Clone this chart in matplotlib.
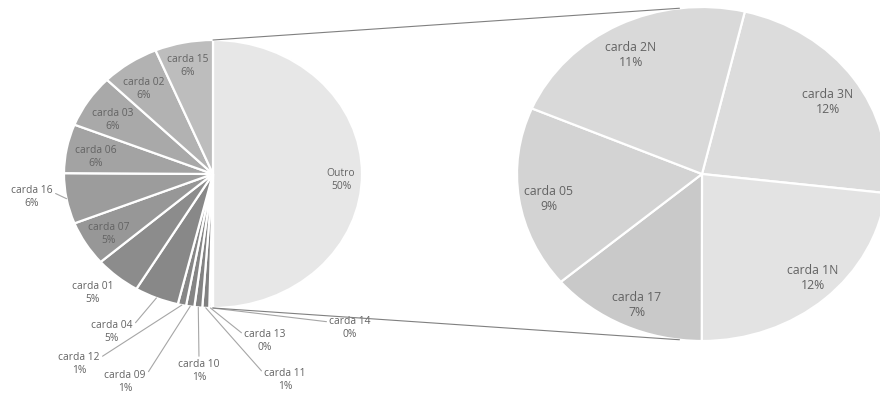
import matplotlib
matplotlib.use("Agg")
import matplotlib.pyplot as plt
from matplotlib.patches import ConnectionPatch
import numpy as np

plt.rcParams["font.family"] = ["Open Sans", "DejaVu Sans"]

# first pie, clockwise from 12 o'clock
left_labels = ["Outro", "carda 14", "carda 13", "carda 11", "carda 10", "carda 09",
               "carda 12", "carda 04", "carda 01", "carda 07", "carda 16",
               "carda 06", "carda 03", "carda 02", "carda 15"]
left_values = [50.0, 0.15, 0.25, 0.75, 0.85, 0.9, 0.9, 4.8, 5.0, 5.4, 6.1,
               5.9, 6.4, 6.3, 6.3]
left_colors = ["#e7e7e7", "#7c7c7c", "#7e7e7e", "#808080", "#828282", "#848484",
               "#868686", "#888888", "#8c8c8c", "#979797", "#9c9c9c",
               "#a3a3a3", "#a9a9a9", "#b2b2b2", "#bdbdbd"]

# second pie (breakdown of "Outro"), clockwise
right_labels = ["carda 3N", "carda 1N", "carda 17", "carda 05", "carda 2N"]
right_values = [11.55, 11.6, 6.9, 8.8, 11.15]
right_colors = ["#dcdcdc", "#e3e3e3", "#c9c9c9", "#d3d3d3", "#d9d9d9"]

total = sum(left_values)

# label placement in figure pixels (x, y from top)
left_pos = {
    "Outro": (341, 180), "carda 15": (188, 66), "carda 02": (144, 89),
    "carda 03": (113, 120), "carda 06": (96, 157), "carda 07": (109, 234),
    "carda 01": (93, 293), "carda 16": (32, 197), "carda 04": (112, 332),
    "carda 12": (79, 364), "carda 09": (125, 382), "carda 10": (199, 371),
    "carda 11": (285, 380), "carda 13": (265, 341), "carda 14": (350, 328),
}
leader_rel = {
    "carda 16": (1.0, 0.7), "carda 04": (1.0, 0.75), "carda 12": (1.0, 0.75),
    "carda 09": (1.0, 0.75), "carda 10": (0.5, 1.0), "carda 11": (0.0, 0.75),
    "carda 13": (0.0, 0.75), "carda 14": (0.0, 0.75),
}
right_pos = {
    "carda 2N": (631, 55), "carda 3N": (828, 102), "carda 05": (549, 199),
    "carda 1N": (813, 278), "carda 17": (637, 305),
}

W, H = 880, 394
fig = plt.figure(figsize=(8.8, 3.94), dpi=100)


def ellipse_axes(cx, cy, rx, ry):
    ax = fig.add_axes([(cx - rx) / W, (H - cy - ry) / H, 2 * rx / W, 2 * ry / H])
    return ax


ax1 = ellipse_axes(213, 174, 149, 134)
wedges1, _ = ax1.pie(left_values, colors=left_colors, startangle=90, counterclock=False,
                     wedgeprops=dict(edgecolor="white", linewidth=1.6))
ax1.set_aspect("auto")
ax1.set_xlim(-1, 1)
ax1.set_ylim(-1, 1)

ax2 = ellipse_axes(702, 174, 185, 167)
wedges2, _ = ax2.pie(right_values, colors=right_colors, startangle=76.6, counterclock=False,
                     wedgeprops=dict(edgecolor="white", linewidth=1.6))
ax2.set_aspect("auto")
ax2.set_xlim(-1, 1)
ax2.set_ylim(-1, 1)

# transparent layer on top for the labels
overlay = fig.add_axes([0, 0, 1, 1])
overlay.set_xlim(0, W)
overlay.set_ylim(H, 0)
overlay.axis("off")
overlay.patch.set_alpha(0)

txt_color = "#636363"
fs_left = 7.4
for lab, val, w in zip(left_labels, left_values, wedges1):
    s = f"{lab}\n{val / total * 100:.0f}%"
    x, y = left_pos[lab]
    if lab in leader_rel:
        mid = np.deg2rad((w.theta1 + w.theta2) / 2)
        p = overlay.transData.inverted().transform(
            ax1.transData.transform((np.cos(mid), np.sin(mid))))
        overlay.annotate(s, xy=p, xytext=(x, y), ha="center", va="center",
                         fontsize=fs_left, color=txt_color, linespacing=1.25,
                         annotation_clip=False,
                         arrowprops=dict(arrowstyle="-", color="#a6a6a6", lw=0.8,
                                         shrinkA=0, shrinkB=0, relpos=leader_rel[lab]))
    else:
        overlay.text(x, y, s, ha="center", va="center", fontsize=fs_left,
                     color=txt_color, linespacing=1.25)

for lab, val in zip(right_labels, right_values):
    x, y = right_pos[lab]
    overlay.text(x, y, f"{lab}\n{val / total * 100:.0f}%", ha="center", va="center",
                 fontsize=8.8, color=txt_color, linespacing=1.2)

# connector lines between the split and the second pie
for a_left, a_right in [(90, 97), (-90, -97)]:
    p1 = (np.cos(np.deg2rad(a_left)), np.sin(np.deg2rad(a_left)))
    p2 = (np.cos(np.deg2rad(a_right)), np.sin(np.deg2rad(a_right)))
    con = ConnectionPatch(xyA=p1, coordsA=ax1.transData, xyB=p2, coordsB=ax2.transData,
                          color="#808080", lw=0.8)
    fig.add_artist(con)

fig.savefig("out.png", dpi=100, facecolor="white")
